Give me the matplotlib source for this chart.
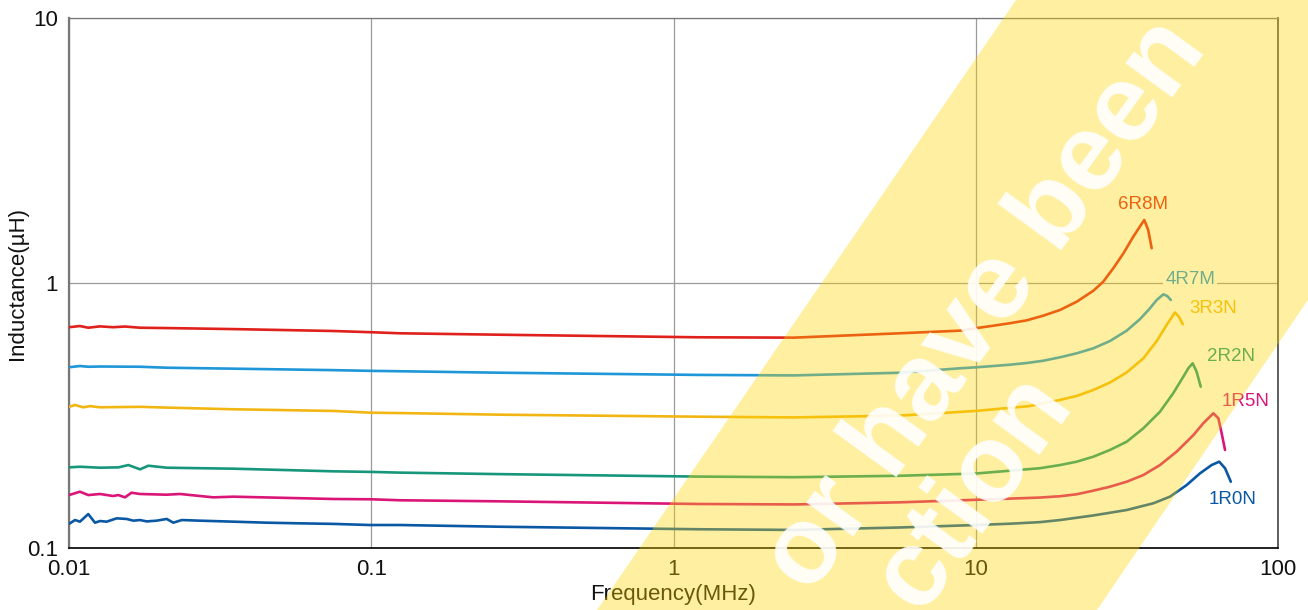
import matplotlib
matplotlib.use("Agg")
import matplotlib.pyplot as plt
from matplotlib.patches import Polygon
from matplotlib.ticker import NullLocator

plt.rcParams['font.family'] = ['Liberation Sans', 'DejaVu Sans']

########## DATA ##########

# frequency in MHz, inductance in uH
f_6r8m = [0.01, 0.01087, 0.01158, 0.01266, 0.0140, 0.01532, 0.01718, 0.02105, 0.035, 0.0749,
          0.1, 0.1245, 0.2667, 1.2, 2.5, 5.6, 8.87, 10.07, 11.43, 12.98, 14.75, 16.73, 19.0,
          21.58, 24.5, 26.4, 28.5, 30.8, 33.2, 34.9, 36.1, 37.2, 38.2]
L_6r8m = [0.681, 0.688, 0.678, 0.686, 0.681, 0.685, 0.678, 0.676, 0.670, 0.659,
          0.652, 0.646, 0.638, 0.624, 0.622, 0.646, 0.661, 0.676, 0.690, 0.705, 0.723, 0.753, 0.791,
          0.850, 0.935, 1.011, 1.136, 1.294, 1.495, 1.631, 1.729, 1.585, 1.352]

f_4r7m = [0.01, 0.01087, 0.01158, 0.01266, 0.01718, 0.02105, 0.035, 0.0749,
          0.1, 0.1245, 0.2667, 1.2, 2.5, 5.6, 8.87, 10.07, 11.43, 12.98, 14.75, 16.73, 19.0,
          21.58, 24.5, 27.8, 31.58, 34.9, 37.7, 39.7, 41.75, 43.0, 44.2]
L_4r7m = [0.481, 0.486, 0.483, 0.484, 0.483, 0.479, 0.475, 0.469,
          0.466, 0.4645, 0.4586, 0.450, 0.448, 0.4585, 0.4766, 0.4808, 0.4862, 0.4917, 0.4990, 0.509, 0.5243,
          0.5429, 0.567, 0.604, 0.661, 0.7295, 0.8025, 0.863, 0.906, 0.893, 0.863]

f_3r3n = [0.01, 0.01047, 0.01115, 0.01173, 0.01266, 0.01718, 0.02105, 0.035, 0.0749,
          0.1, 0.1245, 0.2667, 1.2, 2.5, 5.6, 10, 15, 19.0, 21.58, 24.5, 27.8, 31.58,
          35.85, 39.7, 42.8, 45.6, 47.0, 48.4]
L_3r3n = [0.341, 0.3464, 0.3396, 0.343, 0.3396, 0.341, 0.3387, 0.3338, 0.329,
          0.324, 0.323, 0.3185, 0.313, 0.311, 0.316, 0.329, 0.343, 0.362, 0.3748, 0.3948, 0.4213, 0.4596,
          0.5197, 0.604, 0.694, 0.774, 0.746, 0.699]

f_2r2n = [0.01, 0.01087, 0.01266, 0.01458, 0.01572, 0.01718, 0.0183, 0.02105, 0.035, 0.0749,
          0.1, 0.1245, 0.2667, 1.2, 2.5, 5.6, 10, 16.3, 19.0, 21.58, 24.5, 27.8, 31.58,
          35.85, 40.7, 45.0, 48.6, 50.5, 52.2, 53.8, 55.5]
L_2r2n = [0.2015, 0.2026, 0.2009, 0.2015, 0.2056, 0.1981, 0.2044, 0.2009, 0.1992, 0.1947,
          0.1937, 0.1925, 0.190, 0.186, 0.185, 0.1873, 0.191, 0.200, 0.2056, 0.2117, 0.2211, 0.2344, 0.2518,
          0.2829, 0.3268, 0.3836, 0.4429, 0.4766, 0.4977, 0.4626, 0.4062]

f_1r5n = [0.01, 0.01087, 0.01158, 0.01266, 0.0140, 0.01456, 0.01532, 0.0161, 0.01718,
          0.02105, 0.0233, 0.030, 0.035, 0.0749, 0.1, 0.1245, 0.2667, 1.2, 2.5, 5.6, 10,
          16.3, 19.0, 21.58, 24.5, 27.8, 31.58, 35.85, 40.7, 46.2, 52.5, 56.6, 61.1, 63.5,
          65.1, 66.8]
L_1r5n = [0.1584, 0.1631, 0.1584, 0.1599, 0.1571, 0.1584, 0.1553, 0.1617, 0.1599,
          0.1589, 0.1599, 0.1553, 0.1562, 0.1531, 0.1527, 0.1514, 0.150, 0.1466, 0.146, 0.1487, 0.152,
          0.1550, 0.1568, 0.1595, 0.1646, 0.1703, 0.1779, 0.1885, 0.2056, 0.2310, 0.2668, 0.2956, 0.3223, 0.3086,
          0.2709, 0.2344]

f_1r0n = [0.01, 0.01047, 0.01087, 0.01158, 0.01219, 0.01266, 0.01332, 0.01438, 0.01552,
          0.01632, 0.01718, 0.01807, 0.0195, 0.02105, 0.02214, 0.0236, 0.0271, 0.035,
          0.0451, 0.0581, 0.0749, 0.099, 0.1245, 0.2667, 1.2, 2.5, 5.6, 10, 13, 16.3, 19.0,
          24.5, 31.58, 38.7, 43.9, 49.9, 55.2, 60.3, 63.9, 66.8, 69.8]
L_1r0n = [0.1233, 0.1275, 0.1257, 0.1343, 0.1246, 0.1264, 0.1257, 0.1294, 0.1287,
          0.1268, 0.1275, 0.1260, 0.1268, 0.1287, 0.1246, 0.1275, 0.1268, 0.1257,
          0.1246, 0.1239, 0.1233, 0.1221, 0.1221, 0.1203, 0.1177, 0.117, 0.1195, 0.1221, 0.1235, 0.1252, 0.1275,
          0.1327, 0.1391, 0.1475, 0.1562, 0.1729, 0.1913, 0.2056, 0.2117, 0.2000, 0.1779]

series_names = ['6R8M', '4R7M', '3R3N', '2R2N', '1R5N', '1R0N']
series_f = [f_6r8m, f_4r7m, f_3r3n, f_2r2n, f_1r5n, f_1r0n]
series_L = [L_6r8m, L_4r7m, L_3r3n, L_2r2n, L_1r5n, L_1r0n]
colors = ['#E0201B', '#1E96D8', '#F2B613', '#16977B', '#DB1577', '#0A58A4']
# where the part number labels sit (MHz, uH)
label_pos = [(35.8, 1.97), (51.2, 1.035), (61, 0.798), (69.9, 0.530), (78.3, 0.356), (71, 0.152)]

x_ticks = [0.01, 0.1, 1, 10, 100]
x_labels = ['0.01', '0.1', '1', '10', '100']
y_ticks = [0.1, 1, 10]
y_labels = ['0.1', '1', '10']

########## PLOT ##########

fig = plt.figure(figsize=(13.08, 6.10), dpi=100)
ax = fig.add_axes([69/1308, 1-548/610, (1278-69)/1308, (548-18)/610])

for name, f, L, c in zip(series_names, series_f, series_L, colors):
    ax.plot(f, L, color=c, linewidth=1.9, solid_capstyle='round', solid_joinstyle='round', zorder=3)

for name, (x, y), c in zip(series_names, label_pos, colors):
    ax.text(x, y, name, color=c, fontsize=13.5, ha='center', va='center', zorder=4,
            bbox=dict(facecolor='white', edgecolor='none', pad=1.5))

ax.set_xscale('log')
ax.set_yscale('log')
ax.set_xlim(0.01, 100)
ax.set_ylim(0.1, 10)
ax.set_xticks(x_ticks)
ax.set_xticklabels(x_labels)
ax.set_yticks(y_ticks)
ax.set_yticklabels(y_labels)
ax.xaxis.set_minor_locator(NullLocator())
ax.yaxis.set_minor_locator(NullLocator())
ax.tick_params(length=0, labelsize=16, colors='#111111')
ax.tick_params(axis='x', pad=8)
ax.tick_params(axis='y', pad=8)
ax.grid(True, color='#9a9a9a', linewidth=0.9)
ax.set_axisbelow(True)

ax.spines['left'].set_color('#777777')
ax.spines['left'].set_linewidth(1.6)
ax.spines['bottom'].set_color('#111111')
ax.spines['bottom'].set_linewidth(1.3)
ax.spines['top'].set_color('#777777')
ax.spines['top'].set_linewidth(0.9)
ax.spines['right'].set_color('#444444')
ax.spines['right'].set_linewidth(1.2)

ax.set_xlabel('Frequency(MHz)', fontsize=16, color='#111111', labelpad=3)
ax.set_ylabel('Inductance(\u00b5H)', fontsize=16, color='#111111')
ax.yaxis.set_label_coords(-0.034, 0.5)

########## WATERMARK BAND ##########

ov = fig.add_axes([0, 0, 1, 1], zorder=5)
ov.set_xlim(0, 1308)
ov.set_ylim(610, 0)
ov.axis('off')
ov.patch.set_alpha(0)
ov.add_patch(Polygon([(597, 610), (1016, 0), (1512, 0), (1097, 610)],
                     closed=True, facecolor='#FFD600', edgecolor='none', alpha=0.37))
ov.text(810, 596, 'or have been', color='white', alpha=0.9, fontsize=79, fontweight='bold',
        rotation=54, rotation_mode='anchor', ha='left', va='baseline')
ov.text(920, 614, 'ction', color='white', alpha=0.9, fontsize=79, fontweight='bold',
        rotation=54, rotation_mode='anchor', ha='left', va='baseline')

fig.savefig('out.png', dpi=100)
plt.close(fig)
